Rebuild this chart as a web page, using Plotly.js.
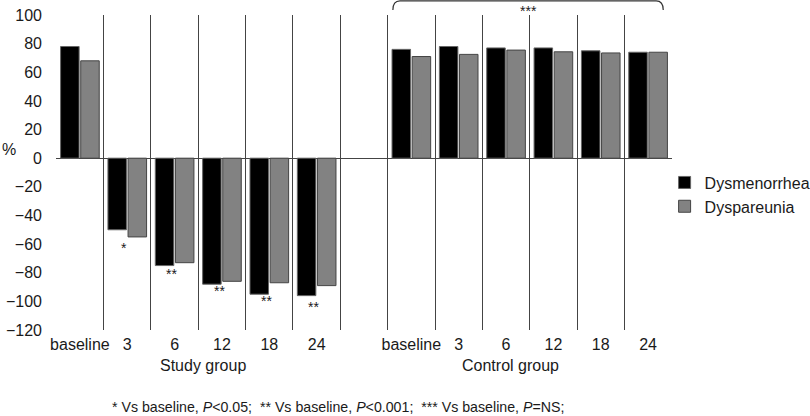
<!DOCTYPE html>
<html>
<head>
<meta charset="utf-8">
<script src="https://cdn.plot.ly/plotly-3.0.1.min.js"></script>
<style>html,body{margin:0;padding:0;background:#fff}#chart{width:810px;height:416px}</style>
</head>
<body>
<div id="chart"></div>
<script>
// Category labels (index 6 is the empty gap between groups)
const categories = ['baseline','3','6','12','18','24','','baseline','3','6','12','18','24'];
const groupLabels = ['Study group','Control group'];
const groupLabelPos = [2.6, 9.1];
// Series values (null = no bar)
const dysmenorrhea = [78, -50, -75, -88, -95, -96, null, 76, 78, 77, 77, 75, 74];
const dyspareunia  = [68, -55, -73, -86, -87, -89, null, 71, 72.5, 75.5, 74.3, 73.5, 74];
// Significance markers below study-group bars
const starCats   = [1, 2, 3, 4, 5];
const starLabels = ['*','**','**','**','**'];
const starY      = [-63, -81, -93, -100, -104];
const bracketLabel = '***';
const footnote = '* Vs baseline, <i>P</i>&lt;0.05;  ** Vs baseline, <i>P</i>&lt;0.001;  *** Vs baseline, <i>P</i>=NS;';

const xIdx = categories.map((_, i) => i);
const boundaries = categories.map((_, i) => i - 0.5).concat([categories.length - 0.5]);
const FONT = 'Liberation Sans, Arial, sans-serif';
const TXT = '#1a1a1a';

const traces = [
  {type:'bar', name:'Dysmenorrhea', x:xIdx, y:dysmenorrhea,
   marker:{color:'#000000', line:{color:'#666666', width:1}}},
  {type:'bar', name:'Dyspareunia', x:xIdx, y:dyspareunia,
   marker:{color:'#828282', line:{color:'#444444', width:1}}}
];

const annotations = [];
starCats.forEach((c, i) => annotations.push({
  x:c - 0.06, y:starY[i], xref:'x', yref:'y', text:starLabels[i], showarrow:false,
  font:{family:FONT, size:14, color:TXT}, yanchor:'middle'
}));
groupLabels.forEach((g, i) => annotations.push({
  x:groupLabelPos[i], y:-0.113, xref:'x', yref:'paper', text:g, showarrow:false,
  font:{family:FONT, size:16, color:TXT}, yanchor:'middle'
}));
annotations.push({x:9.48, y:1.046, xref:'x', yref:'paper', text:bracketLabel, showarrow:false,
  font:{family:FONT, size:14, color:TXT}, yanchor:'top'});
annotations.push({x:-0.077, y:6, xref:'paper', yref:'y', text:'%', showarrow:false,
  font:{family:FONT, size:16, color:TXT}, xanchor:'center', yanchor:'middle'});
annotations.push({x:0.457, y:-0.245, xref:'paper', yref:'paper', text:footnote, showarrow:false,
  font:{family:FONT, size:14.2, color:TXT}, yanchor:'middle'});

const bx0 = 6.61, bx1 = 12.32, btop = 1.045, bend = 1.016;
const shapes = [{
  type:'path', xref:'x', yref:'paper', layer:'above',
  path:`M ${bx0},${bend} Q ${bx0},${btop} ${bx0+0.15},${btop} L ${bx1-0.15},${btop} Q ${bx1},${btop} ${bx1},${bend}`,
  line:{color:'#333', width:1.2}
}];

const layout = {
  width:810, height:416,
  margin:{l:56, r:138, t:15, b:86, autoexpand:false},
  paper_bgcolor:'#fff', plot_bgcolor:'#fff',
  font:{family:FONT, size:16, color:TXT},
  barmode:'group', bargap:0.15, bargroupgap:0.08,
  showlegend:true,
  legend:{x:0.988, y:0.43, xanchor:'left', yanchor:'middle', font:{family:FONT, size:16, color:TXT},
          itemwidth:30, tracegroupgap:0, bgcolor:'rgba(0,0,0,0)'},
  xaxis:{range:[-0.505, categories.length - 0.495], tickmode:'array', tickvals:xIdx, ticktext:categories,
         showgrid:false, zeroline:false, showline:false, ticks:'', ticklabelstandoff:3,
         tickfont:{family:FONT, size:16, color:TXT},
         minor:{tickmode:'array', tickvals:boundaries, showgrid:true, gridcolor:'#444', gridwidth:1, ticks:''}},
  yaxis:{range:[-120, 100], tickmode:'linear', tick0:0, dtick:20, showgrid:false,
         zeroline:true, zerolinecolor:'#444', zerolinewidth:1,
         showline:false, ticks:'', ticklabelstandoff:13,
         tickfont:{family:FONT, size:16, color:TXT}},
  shapes:shapes,
  annotations:annotations
};

Plotly.newPlot('chart', traces, layout, {displayModeBar:false, responsive:false});
</script>
</body>
</html>
